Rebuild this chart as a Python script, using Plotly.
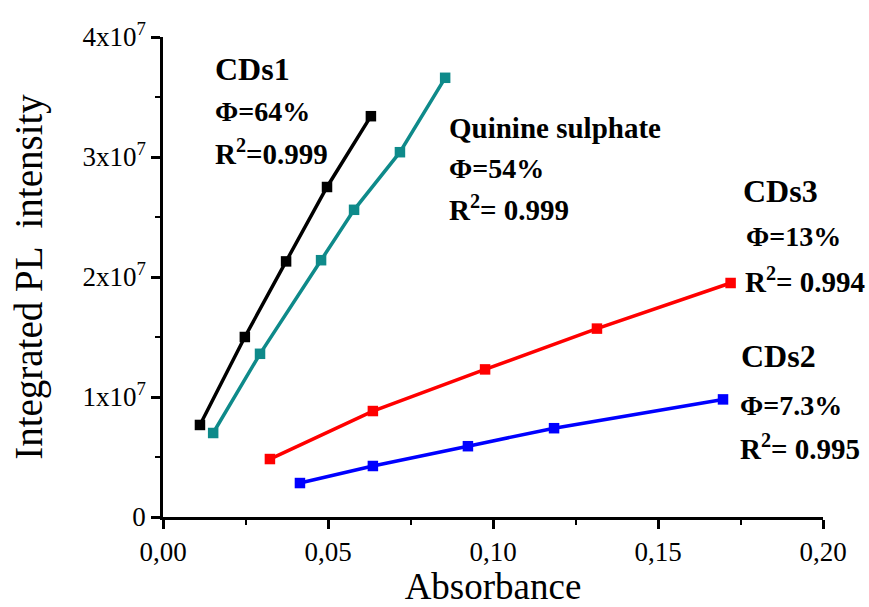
import plotly.graph_objects as go

# Data
cds1_x = [0.0112, 0.0248, 0.0373, 0.0497, 0.0630]
cds1_y = [0.767e7, 1.50e7, 2.13e7, 2.75e7, 3.34e7]

qs_x = [0.0152, 0.0294, 0.0479, 0.0579, 0.0718, 0.0855]
qs_y = [0.70e7, 1.36e7, 2.14e7, 2.56e7, 3.04e7, 3.66e7]

cds3_x = [0.0324, 0.0636, 0.0976, 0.1315, 0.1720]
cds3_y = [0.483e7, 0.883e7, 1.23e7, 1.57e7, 1.95e7]

cds2_x = [0.0415, 0.0636, 0.0924, 0.1185, 0.1697]
cds2_y = [0.283e7, 0.425e7, 0.59e7, 0.74e7, 0.98e7]

x_tickvals = [0, 0.05, 0.10, 0.15, 0.20]
x_ticktext = ["0,00", "0,05", "0,10", "0,15", "0,20"]
y_tickvals = [0, 1e7, 2e7, 3e7, 4e7]
y_ticktext = ["0", "1x10<sup>7</sup>", "2x10<sup>7</sup>", "3x10<sup>7</sup>", "4x10<sup>7</sup>"]

series = [
    ("CDs1", cds1_x, cds1_y, "#000000"),
    ("Quinine sulphate", qs_x, qs_y, "#0e8a8a"),
    ("CDs3", cds3_x, cds3_y, "#ff0000"),
    ("CDs2", cds2_x, cds2_y, "#0000ff"),
]

FONT = "Liberation Serif"

fig = go.Figure()
for name, xs, ys, col in series:
    fig.add_trace(go.Scatter(
        x=xs, y=ys, mode="lines+markers", name=name,
        line=dict(color=col, width=3.5),
        marker=dict(symbol="square", size=10.5, color=col),
        showlegend=False,
    ))

def px2data(px, py):
    return (px - 163) / 3300.0, (517 - py) / 120.0 * 1e7

labels = [
    ("CDs1", 213, 69, 32),
    ("Φ=64%", 213, 111, 28),
    ("R<sup>2</sup>=0.999", 213, 152, 29),
    ("Quinine sulphate", 447, 128, 29),
    ("Φ=54%", 447, 168, 28),
    ("R<sup>2</sup>= 0.999", 447, 208, 29),
    ("CDs3", 741, 191, 32),
    ("Φ=13%", 744, 236, 28),
    ("R<sup>2</sup>= 0.994", 743, 280, 29),
    ("CDs2", 739, 356, 32),
    ("Φ=7.3%", 738, 405, 28),
    ("R<sup>2</sup>= 0.995", 738, 447, 29),
]
for txt, px, py, sz in labels:
    ax, ay = px2data(px, py)
    fig.add_annotation(x=ax, y=ay, xref="x", yref="y", text="<b>" + txt + "</b>",
                       showarrow=False, xanchor="left", yanchor="middle",
                       font=dict(family=FONT, size=sz, color="black"))

fig.update_layout(
    width=869, height=607,
    margin=dict(l=163, r=46, t=37, b=90),
    paper_bgcolor="white", plot_bgcolor="white",
    font=dict(family=FONT, color="black"),
)
fig.update_xaxes(
    range=[0, 0.2], tickvals=x_tickvals, ticktext=x_ticktext,
    showgrid=False, zeroline=False, showline=True, linecolor="black", linewidth=2.5,
    ticks="outside", ticklen=9, tickwidth=2.5, tickcolor="black",
    minor=dict(ticks="outside", ticklen=5, tickwidth=2, tickcolor="black", dtick=0.025),
    tickfont=dict(family=FONT, size=27, color="black"),
    automargin=False,
    title=dict(text="Absorbance", font=dict(family=FONT, size=37, color="black")),
)
fig.update_yaxes(
    range=[0, 4e7], tickvals=y_tickvals, ticktext=y_ticktext,
    showgrid=False, zeroline=False, showline=True, linecolor="black", linewidth=2.5,
    ticks="outside", ticklen=9, tickwidth=2.5, tickcolor="black",
    minor=dict(ticks="outside", ticklen=5, tickwidth=2, tickcolor="black", dtick=0.5e7),
    tickfont=dict(family=FONT, size=27, color="black"),
    title=dict(text="Integrated PL  intensity", font=dict(family=FONT, size=39, color="black"), standoff=28),
)

fig.write_html("out.html")
